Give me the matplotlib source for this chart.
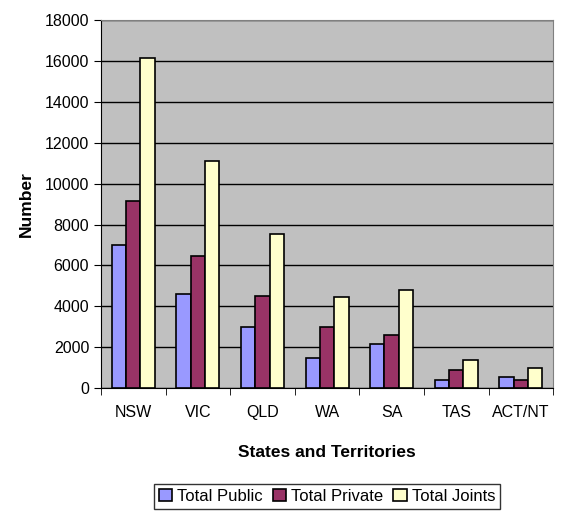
import numpy as np
import matplotlib
matplotlib.use("Agg")
import matplotlib.pyplot as plt

plt.rcParams['font.family'] = ['Liberation Sans', 'DejaVu Sans']

# Data
states = ["NSW", "VIC", "QLD", "WA", "SA", "TAS", "ACT/NT"]
total_public = [7000, 4620, 2980, 1450, 2170, 390, 550]
total_private = [9150, 6470, 4520, 3000, 2590, 880, 380]
total_joints = [16140, 11100, 7530, 4450, 4790, 1370, 960]

series = [
    ("Total Public", total_public, "#9999FF"),
    ("Total Private", total_private, "#993366"),
    ("Total Joints", total_joints, "#FFFFCC"),
]

fig = plt.figure(figsize=(5.63, 5.17), dpi=100)
ax = fig.add_axes([0.1794, 0.2495, 0.803, 0.7115])
ax.set_facecolor("#C0C0C0")

x = np.arange(len(states))
width = 1 / 4.5
for i, (name, vals, color) in enumerate(series):
    ax.bar(x + (i - 1) * width, vals, width, color=color, edgecolor="black",
           linewidth=1.2, label=name, zorder=3)

ax.set_xlim(-0.5, len(states) - 0.5)
ax.set_ylim(0, 18000)
ax.set_yticks(range(0, 18001, 2000))
ax.yaxis.grid(True, color="black", linewidth=1, zorder=0)

# category labels centred, ticks on category boundaries
ax.set_xticks(x)
ax.set_xticklabels(states)
ax.set_xticks(np.arange(-0.5, len(states), 1), minor=True)
ax.tick_params(axis="x", which="major", length=0, pad=12, labelsize=11.5)
ax.tick_params(axis="x", which="minor", length=5, direction="out")
ax.tick_params(axis="y", length=5, direction="out", labelsize=11.5)

for side in ["top", "right"]:
    ax.spines[side].set_color("#808080")
ax.spines["left"].set_color("black")
ax.spines["bottom"].set_color("black")

ax.set_xlabel("States and Territories", fontsize=12.5, fontweight="bold", labelpad=18)
ax.set_ylabel("Number", fontsize=12.5, fontweight="bold", labelpad=8)

leg = fig.legend(loc="lower center", bbox_to_anchor=(0.581, 0.0), ncol=3,
                 fontsize=12, frameon=True, fancybox=False, edgecolor="black",
                 handlelength=0.8, handleheight=0.8, handletextpad=0.3,
                 columnspacing=0.6, borderpad=0.3)

fig.savefig("out.png", dpi=100)
